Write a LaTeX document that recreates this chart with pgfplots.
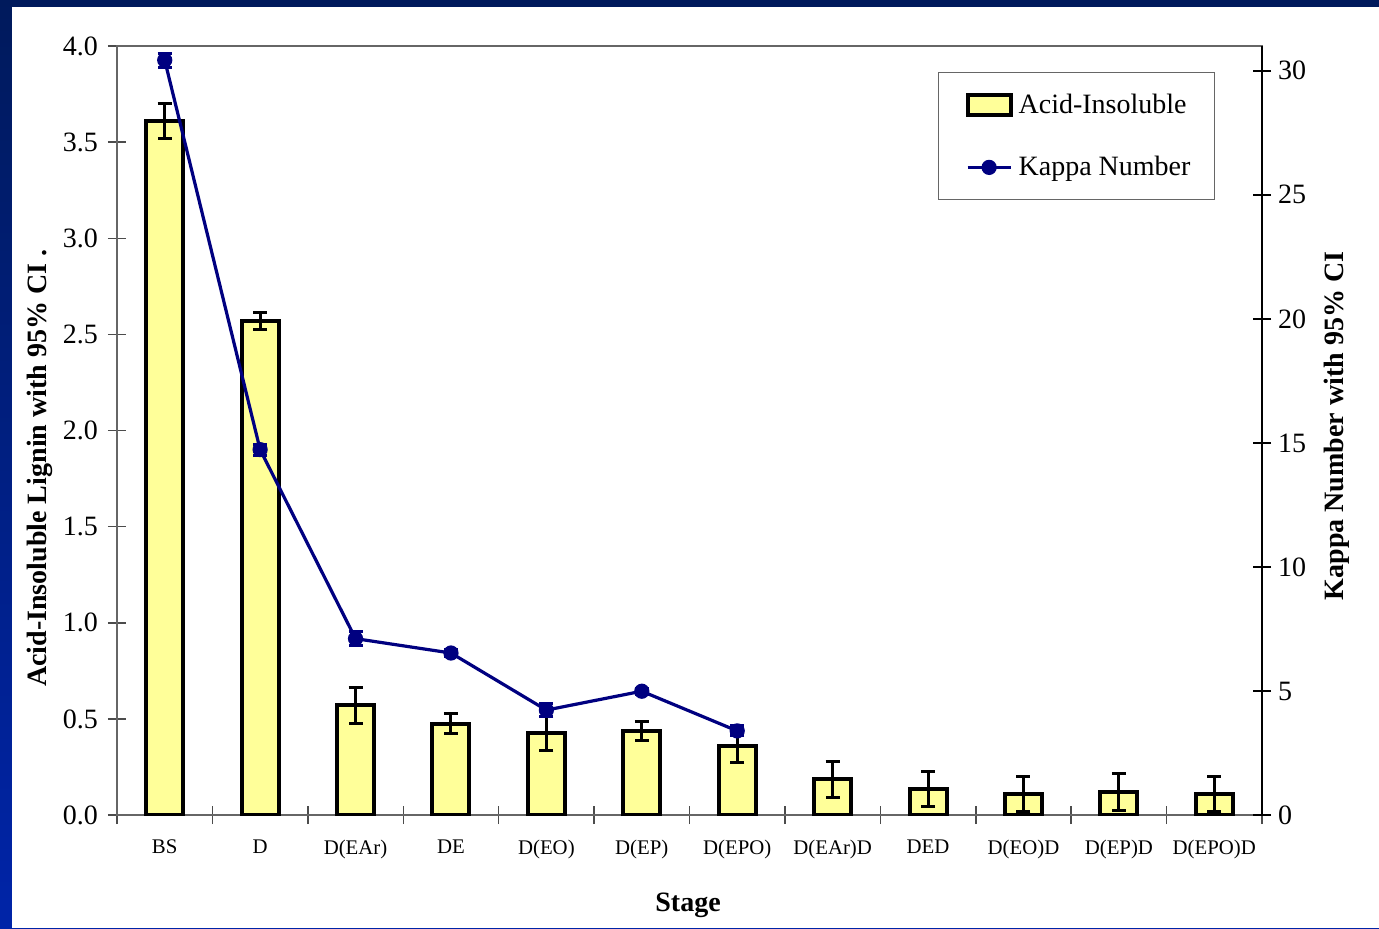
\documentclass[border=0pt]{standalone}
\usepackage{pgfplots}
\usepackage{pgfplotstable}
\pgfplotsset{compat=1.18}
\usepackage{fontspec}
\setmainfont{Liberation Serif}

\definecolor{barfill}{HTML}{FFFF99}
\definecolor{kappa}{HTML}{000080}
\definecolor{slideA}{HTML}{001A5C}
\definecolor{slideB}{HTML}{0024A8}

% acid-insoluble lignin (%) with 95% CI half-width
\pgfplotstableread{
x val err
0 3.61 0.09
1 2.57 0.045
2 0.57 0.092
3 0.475 0.053
4 0.425 0.09
5 0.437 0.052
6 0.36 0.087
7 0.185 0.092
8 0.135 0.092
9 0.11 0.09
10 0.12 0.095
11 0.11 0.09
}\acidtable

% kappa number with 95% CI half-width
\pgfplotstableread{
x val err
0 30.43 0.28
1 14.73 0.22
2 7.11 0.27
3 6.53 0.15
4 4.23 0.25
5 4.99 0.12
6 3.39 0.2
}\kappatable

\newcommand{\ticksize}{\fontsize{14}{16}\selectfont}
\newcommand{\catsize}{\fontsize{10.4}{12}\selectfont}
\newcommand{\labelsize}{\fontsize{14}{16}\selectfont\bfseries}

\pgfplotsset{
  common/.style={
    width=572.5pt, height=384.5pt, scale only axis,
    xmin=-0.5, xmax=11.5,
    /pgf/number format/assume math mode=true,
    tick align=center, major tick length=9pt,
  },
  barlegend/.style={
    legend image code/.code={
      \path (0pt,0pt) (26pt,0pt);
      \draw[##1] (3.5pt,-5pt) rectangle (25pt,5pt);}
  },
  kappalegend/.style={
    legend image code/.code={
      \path (0pt,0pt) (26pt,0pt);
      \draw[kappa, line width=1.6pt] (3.5pt,0pt) -- (25pt,0pt);
      \fill[kappa] (14.25pt,0pt) circle (3pt);}
  },
}

\begin{document}
\begin{tikzpicture}
% slide background
\fill[top color=slideA, bottom color=slideB] (-58.5pt,-56.5pt) rectangle (631pt,407.5pt);
\fill[white] (-52.5pt,-56.5pt) rectangle (631pt,404pt);

\begin{axis}[common,
  ymin=0, ymax=4,
  ybar, bar width=18.5pt,
  % ticks sit between the stages, names under each bar
  xtick={-0.5,0.5,...,11.5},
  xticklabels={},
  major x tick style={yshift=4.5pt},
  extra x ticks={0,1,2,3,4,5,6,7,8,9,10,11},
  extra x tick labels={BS,D,D(EAr),DE,D(EO),D(EP),D(EPO),D(EAr)D,DED,D(EO)D,D(EP)D,D(EPO)D},
  extra x tick style={tick style={draw=none}},
  ytick={0,0.5,...,4},
  yticklabel style={font=\ticksize, xshift=-1.5pt, /pgf/number format/fixed,
    /pgf/number format/fixed zerofill, /pgf/number format/precision=1},
  xtick pos=bottom, ytick pos=left,
  axis line style={black!60, line width=0.75pt},
  tick style={black!70, line width=0.75pt},
  xticklabel style={font=\catsize},
  every axis y label/.style={at={(axis description cs:-0.0672,0.451)}, rotate=90, anchor=center, font=\labelsize},
  every axis x label/.style={at={(axis description cs:0.4987,0)}, yshift=-45pt, anchor=center, font=\labelsize},
  ylabel={Acid-Insoluble Lignin with 95\% CI .},
  xlabel={Stage},
]
\addplot[fill=barfill, draw=black, line width=2pt,
  error bars/.cd, y dir=both, y explicit,
  error bar style={line width=1.5pt, black},
  error mark options={line width=1.5pt, mark size=3.5pt, black, rotate=90}]
  table[x=x, y=val, y error=err] {\acidtable};
\end{axis}

\begin{axis}[common,
  ymin=0, ymax=31,
  axis x line=none, axis y line*=right,
  axis line style={-, black, line width=0.75pt},
  ytick={0,5,...,30},
  tick style={black, line width=0.75pt},
  yticklabel style={font=\ticksize},
  every axis y label/.style={at={(axis description cs:1.0655,0.506)}, rotate=90, anchor=center, font=\labelsize},
  ylabel={Kappa Number with 95\% CI},
  legend style={at={(axis description cs:0.959,0.966)}, anchor=north east,
    draw=black!60, line width=0.6pt, fill=white, font=\ticksize,
    inner xsep=10pt, inner ysep=8.5pt, row sep=16pt},
  legend cell align=left,
]
\addlegendimage{fill=barfill, draw=black, line width=2pt, barlegend}
\addlegendentry{Acid-Insoluble}
\addplot[kappa, line width=1.6pt, mark=*, mark size=3pt, kappalegend,
  error bars/.cd, y dir=both, y explicit,
  error bar style={line width=1.5pt, kappa},
  error mark options={line width=1.5pt, mark size=3.5pt, kappa, rotate=90}]
  table[x=x, y=val, y error=err] {\kappatable};
\addlegendentry{Kappa Number}
\end{axis}

\pgfresetboundingbox
\path[use as bounding box] (-58.5pt,-56.5pt) rectangle (631pt,407.5pt);
\end{tikzpicture}
\end{document}
